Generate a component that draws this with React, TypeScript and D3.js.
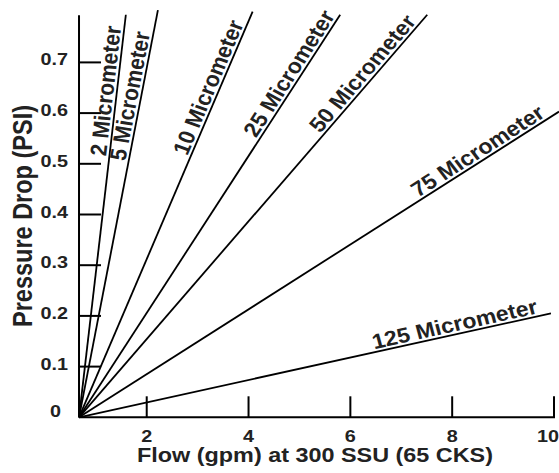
import React from 'react';
import * as d3 from 'd3';

// filter grades and their straight-line end points (flow gpm, pressure psi)
const grades = ['2 Micrometer', '5 Micrometer', '10 Micrometer', '25 Micrometer', '50 Micrometer', '75 Micrometer', '125 Micrometer'];
const endFlow = [1.59, 2.22, 4.08, 5.8, 7.51, 10.1, 9.94];
const endPressure = [0.794, 0.803, 0.8, 0.794, 0.794, 0.603, 0.205];
const originFlow = 0.67;
const originPressure = 0;

const flowTicks = [2, 4, 6, 8, 10];
const pressureTicks = [0.1, 0.2, 0.3, 0.4, 0.5, 0.6, 0.7];
const pressureTop = 0.793;

// where each label starts along its line (fraction of length)
const labelAt = [0.647, 0.627, 0.641, 0.689, 0.7, 0.71, 0.627];

const W = 559, H = 473;
const FONT = '"Liberation Sans", Arial, Helvetica, sans-serif';
const SX = 1.2; // the source text is stretched horizontally
const LSX = 1.1; // stretch used for the line labels

const App = () => {
    const ref = React.useRef<SVGSVGElement>(null);

    React.useEffect(() => {
        const svg = d3.select(ref.current);
        svg.selectAll('*').remove();

        const x = d3.scaleLinear().domain([0, 10]).range([44.9, 554]);
        const y = d3.scaleLinear().domain([0, 0.8]).range([417.3, 11.7]);

        const g = svg.append('g');

        // axes
        g.append('line')
            .attr('x1', x(originFlow)).attr('x2', x(originFlow))
            .attr('y1', y(0)).attr('y2', y(pressureTop))
            .attr('stroke', '#000').attr('stroke-width', 2);
        g.append('line')
            .attr('x1', x(originFlow)).attr('x2', x(10) + 1)
            .attr('y1', y(0)).attr('y2', y(0))
            .attr('stroke', '#000').attr('stroke-width', 2);

        g.selectAll('.ytick').data(pressureTicks).enter().append('line')
            .attr('x1', x(originFlow)).attr('x2', x(originFlow) + 22)
            .attr('y1', d => y(d)).attr('y2', d => y(d))
            .attr('stroke', '#000').attr('stroke-width', 2);
        g.selectAll('.xtick').data(flowTicks).enter().append('line')
            .attr('x1', d => x(d)).attr('x2', d => x(d))
            .attr('y1', y(0)).attr('y2', y(0) - 21)
            .attr('stroke', '#000').attr('stroke-width', 2);

        // tick labels
        g.selectAll('.ylab').data(pressureTicks).enter().append('text')
            .attr('transform', d => 'translate(68,' + (y(d) + 3) + ') scale(' + SX + ',1)')
            .attr('text-anchor', 'end')
            .attr('font-family', FONT).attr('font-weight', 'bold').attr('font-size', 16.5)
            .attr('fill', '#222')
            .text(d => d.toFixed(1));
        g.append('text')
            .attr('transform', 'translate(61,' + y(0) + ') scale(' + SX + ',1)')
            .attr('text-anchor', 'end')
            .attr('font-family', FONT).attr('font-weight', 'bold').attr('font-size', 16.5)
            .attr('fill', '#222')
            .text('0');
        g.selectAll('.xlab').data(flowTicks).enter().append('text')
            .attr('transform', d => 'translate(' + Math.min(x(d), 548) + ',442) scale(' + SX + ',1)')
            .attr('text-anchor', 'middle')
            .attr('font-family', FONT).attr('font-weight', 'bold').attr('font-size', 16.5)
            .attr('fill', '#222')
            .text(d => String(d));

        // axis titles
        g.append('text')
            .attr('x', 315).attr('y', 462)
            .attr('text-anchor', 'middle')
            .attr('font-family', FONT).attr('font-weight', 'bold').attr('font-size', 20)
            .attr('fill', '#222')
            .attr('textLength', 356).attr('lengthAdjust', 'spacingAndGlyphs')
            .text('Flow (gpm) at 300 SSU (65 CKS)');
        g.append('text')
            .attr('transform', 'translate(32,216) scale(' + SX + ',1) rotate(-90)')
            .attr('text-anchor', 'middle')
            .attr('font-family', FONT).attr('font-weight', 'bold').attr('font-size', 23.5)
            .attr('fill', '#222')
            .attr('textLength', 222).attr('lengthAdjust', 'spacingAndGlyphs')
            .text('Pressure Drop (PSI)');

        // grade lines
        const line = d3.line<[number, number]>().x(d => x(d[0])).y(d => y(d[1]));
        grades.forEach((name, i) => {
            const pts: [number, number][] = [[originFlow, originPressure], [endFlow[i], endPressure[i]]];
            g.append('path')
                .attr('d', line(pts))
                .attr('fill', 'none')
                .attr('stroke', '#000').attr('stroke-width', 1.8);

            const x0 = x(originFlow), y0 = y(originPressure);
            const x1 = x(endFlow[i]), y1 = y(endPressure[i]);
            const t = labelAt[i];
            const px = x0 + (x1 - x0) * t, py = y0 + (y1 - y0) * t;
            const ang = Math.atan2(y1 - y0, (x1 - x0) / LSX) * 180 / Math.PI;
            g.append('text')
                .attr('transform', 'translate(' + px + ',' + py + ') scale(' + LSX + ',1) rotate(' + ang + ') translate(0,-3)')
                .attr('font-family', FONT).attr('font-weight', 'bold').attr('font-size', 21)
                .attr('fill', '#222')
                .text(name);
        });
    }, []);

    return <svg ref={ref} width={W} height={H} style={{ position: 'absolute', left: 0, top: 0, background: '#fff' }} />;
};

export default App;
